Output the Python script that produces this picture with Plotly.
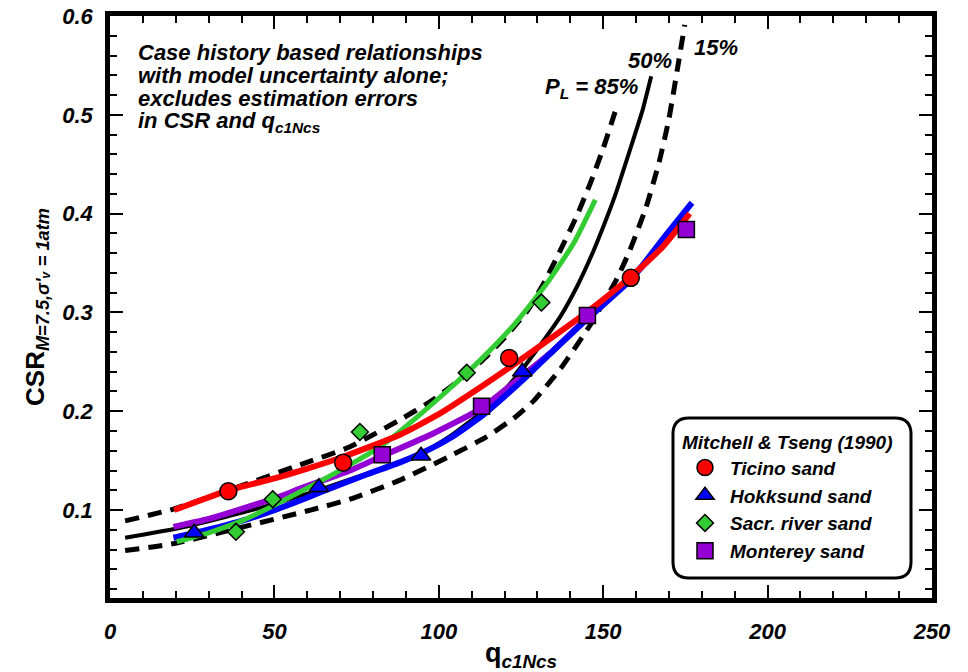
import plotly.graph_objects as go

# ---------------- data ----------------
# measured points (Mitchell & Tseng 1990)
ticino_q = [36.0, 70.9, 121.4, 158.4]
ticino_csr = [0.119, 0.148, 0.254, 0.335]
hokk_q = [25.6, 63.5, 94.6, 125.4]
hokk_csr = [0.077, 0.123, 0.155, 0.240]
sacr_q = [38.3, 49.5, 76.0, 108.5, 131.2]
sacr_csr = [0.078, 0.111, 0.179, 0.239, 0.310]
mont_q = [82.8, 113.0, 145.2, 175.3]
mont_csr = [0.156, 0.205, 0.297, 0.384]

# fitted curves for each sand
red_q = [19.5, 36, 50, 60, 71, 88, 100, 113, 124, 135, 145, 158, 168, 176.3]
red_csr = [0.100, 0.120, 0.132, 0.142, 0.154, 0.176, 0.197, 0.225, 0.250, 0.276, 0.300, 0.335, 0.366, 0.400]
blue_q = [19.3, 26, 40, 50, 58, 64, 78, 88, 95, 104, 113, 120, 126, 135, 145, 158.6, 169, 177]
blue_csr = [0.072, 0.077, 0.089, 0.100, 0.110, 0.118, 0.136, 0.148, 0.158, 0.174, 0.195, 0.215, 0.233, 0.262, 0.293, 0.334, 0.378, 0.411]
purple_q = [19.3, 30, 44.6, 52.7, 58, 73, 83, 98, 113, 124, 135, 145.2, 160, 175]
purple_csr = [0.083, 0.091, 0.106, 0.115, 0.122, 0.140, 0.155, 0.177, 0.203, 0.232, 0.262, 0.295, 0.340, 0.393]
green_q = [20.3, 30, 40, 50, 61, 72, 83, 93, 103, 113, 123, 133, 141, 147.6]
green_csr = [0.068, 0.077, 0.089, 0.105, 0.124, 0.144, 0.166, 0.193, 0.222, 0.253, 0.288, 0.330, 0.370, 0.414]

# probabilistic relationships (P_L = 85%, 50%, 15%)
p85_q = [4.6, 19.3, 36, 58, 73, 88, 98, 108.4, 115, 121, 127, 132, 137, 142, 146, 150, 154]
p85_csr = [0.089, 0.101, 0.120, 0.146, 0.164, 0.191, 0.211, 0.237, 0.257, 0.278, 0.302, 0.330, 0.363, 0.398, 0.430, 0.466, 0.507]
p50_q = [4.6, 20, 35, 48.6, 65, 80, 94.7, 104, 113, 119, 125, 130, 137, 142, 147, 151, 154, 158, 162, 164.6]
p50_csr = [0.072, 0.081, 0.093, 0.105, 0.122, 0.139, 0.157, 0.176, 0.199, 0.218, 0.241, 0.263, 0.296, 0.326, 0.362, 0.395, 0.422, 0.463, 0.505, 0.539]
p15_q = [4.6, 19.3, 40.5, 61, 73, 88, 103, 114.5, 123.6, 129, 137, 146, 154, 158, 163, 167, 170, 172.5, 174.8]
p15_csr = [0.059, 0.066, 0.083, 0.100, 0.111, 0.130, 0.154, 0.174, 0.195, 0.211, 0.243, 0.287, 0.333, 0.362, 0.406, 0.452, 0.496, 0.545, 0.591]

x_range = [0, 250]
y_range = [0.011, 0.6]

RED = "#FF0000"
BLUE = "#0000FF"
GREEN = "#33CC33"
PURPLE = "#9400D3"
FONT = "Liberation Sans, Arial, sans-serif"

fig = go.Figure()

def line(x, y, color, width, dash="solid"):
    fig.add_trace(go.Scatter(x=x, y=y, mode="lines", showlegend=False, hoverinfo="skip",
                             line=dict(color=color, width=width, dash=dash, shape="spline", smoothing=0.5)))

line(p85_q, p85_csr, "black", 5, "14px,9px")
line(p15_q, p15_csr, "black", 5, "14px,9px")
line(p50_q, p50_csr, "black", 4)
line(purple_q, purple_csr, PURPLE, 6)
line(blue_q, blue_csr, BLUE, 6)
line(green_q, green_csr, GREEN, 5)
line(red_q, red_csr, RED, 6)

def pts(x, y, name, symbol, color, size, grp):
    fig.add_trace(go.Scatter(x=x, y=y, mode="markers", name=name, legendgroup=grp,
                             marker=dict(symbol=symbol, color=color, size=size,
                                         line=dict(color="black", width=1.5))))

pts(ticino_q, ticino_csr, "Ticino sand", "circle", RED, 17, "a")
pts(hokk_q, hokk_csr, "Hokksund sand", "triangle-up", BLUE, 17, "b")
pts(sacr_q, sacr_csr, "Sacr. river sand", "diamond", GREEN, 13, "c")
pts(mont_q, mont_csr, "Monterey sand", "square", PURPLE, 16, "d")

L, R, T, B = 110, 932, 16, 598
W, H = R - L, B - T

def px(x):
    return (x - L) / W

def py(y):
    return (B - y) / H

tickfont = dict(family=FONT, size=22, color="black", weight="bold", style="italic")
axis_common = dict(showline=True, linewidth=4.5, linecolor="black", mirror="allticks",
                   ticks="inside", ticklen=13, tickwidth=2, tickcolor="black",
                   showgrid=False, zeroline=False, tickfont=tickfont, automargin=False)

fig.update_xaxes(range=x_range, dtick=50, tick0=0,
                 minor=dict(dtick=10, ticks="inside", ticklen=7, tickwidth=2, tickcolor="black"),
                 ticklabelstandoff=10,
                 title=dict(text="q<sub><i>c1Ncs</i></sub>", font=dict(family=FONT, size=27, color="black", weight="bold"),
                            standoff=6),
                 **axis_common)
fig.update_yaxes(range=y_range, dtick=0.1, tick0=0, tickformat=".1f",
                 minor=dict(dtick=0.02, ticks="inside", ticklen=7, tickwidth=2, tickcolor="black"),
                 ticklabelstandoff=8,
                 title=dict(text="CSR<sub><i>M=7.5,σ'ᵥ = 1atm</i></sub>",
                            font=dict(family=FONT, size=26, color="black", weight="bold"), standoff=12),
                 **axis_common)

# annotation text block
note_lines = ["Case history based relationships", "with model uncertainty alone;",
              "excludes estimation errors", "in CSR and q<sub>c1Ncs</sub>"]
for i, t in enumerate(note_lines):
    fig.add_annotation(xref="paper", yref="paper", x=px(136), y=py(52 + 23.4 * i), text=t,
                       showarrow=False, xanchor="left", yanchor="middle",
                       font=dict(family=FONT, size=22, color="black", weight="bold", style="italic"))

curve_labels = [("P<sub>L</sub> = 85%", 591, 88), ("50%", 650, 61), ("15%", 716, 47)]
for t, x, y in curve_labels:
    fig.add_annotation(xref="paper", yref="paper", x=px(x), y=py(y), text=t, showarrow=False,
                       xanchor="center", yanchor="middle",
                       font=dict(family=FONT, size=22, color="black", weight="bold", style="italic"))

# rounded legend box
bx0, bx1, by0, by1, r = 673, 911, 418, 578, 16
def P(x, y):
    return f"{px(x):.5f},{py(y):.5f}"
path = (f"M {P(bx0 + r, by0)} L {P(bx1 - r, by0)} Q {P(bx1, by0)} {P(bx1, by0 + r)} "
        f"L {P(bx1, by1 - r)} Q {P(bx1, by1)} {P(bx1 - r, by1)} "
        f"L {P(bx0 + r, by1)} Q {P(bx0, by1)} {P(bx0, by1 - r)} "
        f"L {P(bx0, by0 + r)} Q {P(bx0, by0)} {P(bx0 + r, by0)} Z")
fig.add_shape(type="path", xref="paper", yref="paper", path=path,
              line=dict(color="black", width=3), fillcolor="white", layer="below")

fig.update_layout(
    width=968, height=672,
    margin=dict(l=L, r=968 - R, t=T, b=672 - B),
    plot_bgcolor="rgba(0,0,0,0)", paper_bgcolor="white",
    showlegend=True,
    legend=dict(x=px(680), y=py(424), xanchor="left", yanchor="top",
                bgcolor="rgba(0,0,0,0)", borderwidth=0, tracegroupgap=0, itemwidth=40,
                title=dict(text="Mitchell & Tseng (1990)",
                           font=dict(family=FONT, size=19, color="black", weight="bold", style="italic")),
                font=dict(family=FONT, size=19, color="black", weight="bold", style="italic")),
    font=dict(family=FONT, color="black"),
)

fig.write_html("out.html")
